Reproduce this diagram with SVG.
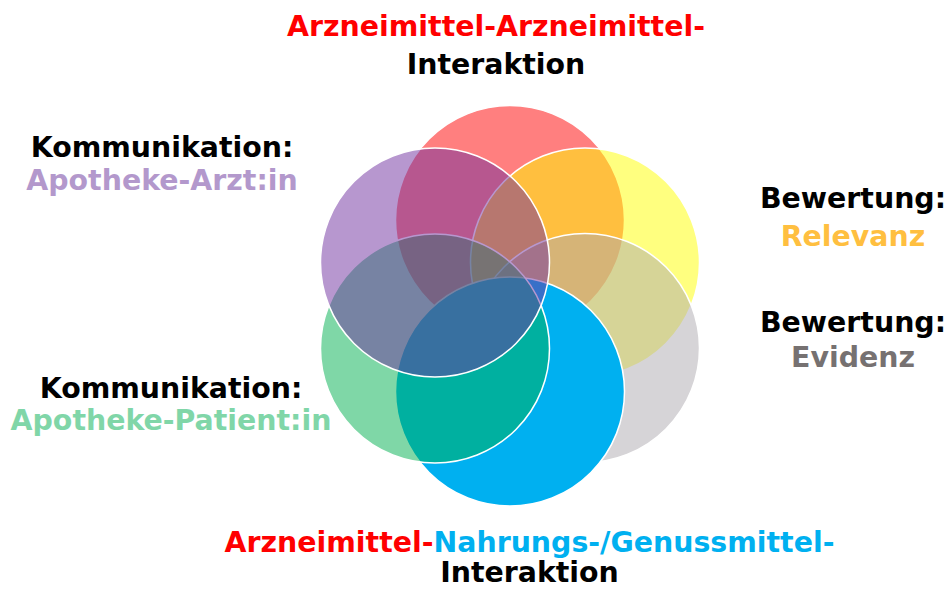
<svg xmlns="http://www.w3.org/2000/svg" width="951" height="589" viewBox="0 0 951 589">
<style>
text{font-family:"DejaVu Sans","Liberation Sans",sans-serif;font-weight:bold;font-size:28.4px;text-anchor:middle}
.c{stroke:#FFFFFF;stroke-width:1.5}
.t{fill-opacity:0.5}
.k{fill:#000000}
</style>
<rect width="951" height="589" fill="#FFFFFF"/>
<g id="circles">
<g id="n-red"><circle class="c t" cx="510" cy="220" r="114.5" fill="#FF0000"/></g>
<g id="n-yellow"><circle class="c t" cx="585" cy="262.5" r="114.5" fill="#FFFF00"/></g>
<g id="n-gray"><circle class="c t" cx="585" cy="348" r="114.5" fill="#AEAAAF"/></g>
<g id="n-blue"><circle class="c" cx="510" cy="391.5" r="114.5" fill="#00B0F0"/></g>
<g id="n-green"><circle class="c t" cx="435" cy="348.5" r="114.5" fill="#00B050"/></g>
<g id="n-purple"><circle class="c t" cx="435" cy="262.5" r="114.5" fill="#7030A0"/></g>
</g>
<g id="connectors"></g>
<g id="label-top">
<text x="496" y="36" fill="#FF0000">Arzneimittel-Arzneimittel-</text>
<text x="496" y="74" class="k">Interaktion</text>
</g>
<g id="label-arzt">
<text x="162" y="157" class="k">Kommunikation:</text>
<text x="162" y="190" fill="#B398CC">Apotheke-Arzt:in</text>
</g>
<g id="label-patient">
<text x="171" y="398" class="k">Kommunikation:</text>
<text x="171" y="430" fill="#80D6A8">Apotheke-Patient:in</text>
</g>
<g id="label-relevanz">
<text x="853" y="208" class="k">Bewertung:</text>
<text x="853" y="246" fill="#FFBF40">Relevanz</text>
</g>
<g id="label-evidenz">
<text x="853" y="332" class="k">Bewertung:</text>
<text x="853" y="367" fill="#767171">Evidenz</text>
</g>
<g id="label-bottom">
<text x="529.5" y="552"><tspan fill="#FF0000">Arzneimittel-</tspan><tspan fill="#00B0F0">Nahrungs-/Genussmittel-</tspan></text>
<text x="529.5" y="582" class="k">Interaktion</text>
</g>
</svg>
